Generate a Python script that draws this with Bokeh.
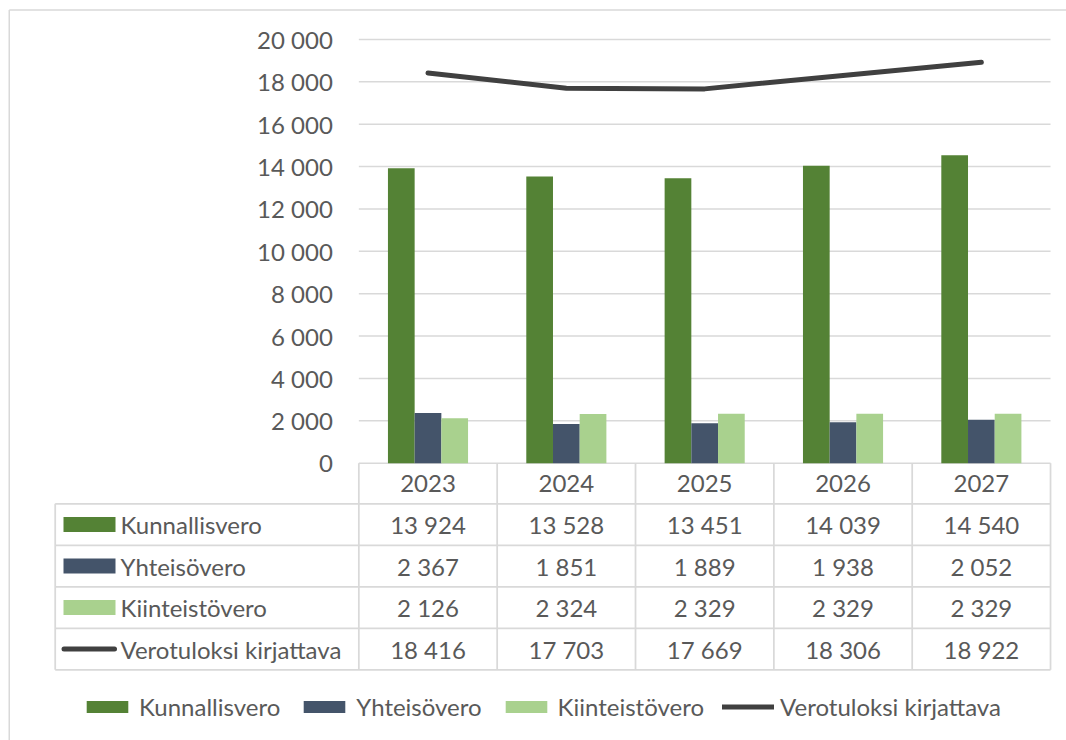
from bokeh.plotting import figure
from bokeh.models import Range1d, Legend, LegendItem
from bokeh.core.properties import value
from bokeh.embed import file_html
from bokeh.resources import INLINE

# ---------------- data ----------------
years = ["2023", "2024", "2025", "2026", "2027"]
kunnallisvero = [13924, 13528, 13451, 14039, 14540]
yhteisovero = [2367, 1851, 1889, 1938, 2052]
kiinteistovero = [2126, 2324, 2329, 2329, 2329]
verotuloksi = [18416, 17703, 17669, 18306, 18922]
series_names = ["Kunnallisvero", "Yhteisövero", "Kiinteistövero", "Verotuloksi kirjattava"]
y_ticks = [0, 2000, 4000, 6000, 8000, 10000, 12000, 14000, 16000, 18000, 20000]

# ---------------- style ----------------
GREEN = "#548235"
NAVY = "#44546A"
LIGHT = "#A9D18E"
LINEC = "#404040"
TXT = "#595959"
GRID = "#D9D9D9"
FONT = "Lato"
FS = "24px"

W, H = 1066, 740
CAT_W = 138.34           # px per category
X0_PX = 427.5            # canvas x of first category centre
Y0_PX = 462.7            # canvas y of value 0
PX_PER_K = 21.185        # px per 1000 units


def dx(px):
    return (px - X0_PX) / CAT_W


def dy(py):
    return (Y0_PX - py) / PX_PER_K * 1000.0


def fmt(v):
    return f"{v:,}".replace(",", " ")


n = len(years)
xs = list(range(n))

p = figure(width=W, height=H, x_range=Range1d(dx(0), dx(W)), y_range=Range1d(dy(H), dy(0)),
           x_axis_type=None, y_axis_type=None, toolbar_location=None, output_backend="svg",
           min_border=0, min_border_left=0, min_border_right=0, min_border_top=0, min_border_bottom=0)
p.outline_line_color = None
p.background_fill_color = "white"
p.border_fill_color = "white"
p.grid.visible = False

# outer chart border (left and top)
p.segment(x0=[dx(8.75), dx(8.75)], y0=[dy(9.6), dy(9.6)], x1=[dx(8.75), dx(W)], y1=[dy(H), dy(9.6)],
          line_color=GRID, line_width=1.5)

# gridlines
p.segment(x0=[-0.5] * len(y_ticks), x1=[n - 0.5] * len(y_ticks), y0=y_ticks, y1=y_ticks,
          line_color=GRID, line_width=1.5)

# y tick labels
p.text(x=[dx(332.3)] * len(y_ticks), y=y_ticks, text=[fmt(t) for t in y_ticks],
       text_font=value(FONT), text_font_size=FS, text_color=TXT,
       text_align="right", text_baseline="middle")

# bars
bw = 0.193
r1 = p.vbar(x=[x - bw for x in xs], top=kunnallisvero, bottom=0, width=bw, fill_color=GREEN, line_color=None)
r2 = p.vbar(x=xs, top=yhteisovero, bottom=0, width=bw, fill_color=NAVY, line_color=None)
r3 = p.vbar(x=[x + bw for x in xs], top=kiinteistovero, bottom=0, width=bw, fill_color=LIGHT, line_color=None)
r4 = p.line(x=xs, y=verotuloksi, line_color=LINEC, line_width=5, line_cap="round", line_join="round")

# ---------------- data table ----------------
row_b = [503.3, 544.8, 586.3, 627.8, 669.3]     # canvas y of row borders
col_left = dx(54.7)
tb = dy(row_b[-1])
# horizontal borders
p.segment(x0=[col_left] * len(row_b), x1=[n - 0.5] * len(row_b), y0=[dy(b) for b in row_b],
          y1=[dy(b) for b in row_b], line_color=GRID, line_width=1.75)
# vertical borders
p.segment(x0=[col_left], x1=[col_left], y0=[dy(row_b[0])], y1=[tb], line_color=GRID, line_width=1.75)
p.segment(x0=[i - 0.5 for i in range(n + 1)], x1=[i - 0.5 for i in range(n + 1)],
          y0=[0] * (n + 1), y1=[tb] * (n + 1), line_color=GRID, line_width=1.75)

# header row (years)
p.text(x=xs, y=[dy((Y0_PX + row_b[0]) / 2)] * n, text=years, text_font=value(FONT),
       text_font_size=FS, text_color=TXT, text_align="center", text_baseline="middle")

row_vals = [kunnallisvero, yhteisovero, kiinteistovero, verotuloksi]
row_cy = [dy((row_b[i] + row_b[i + 1]) / 2) for i in range(4)]
for i, vals in enumerate(row_vals):
    p.text(x=xs, y=[row_cy[i]] * n, text=[fmt(v) for v in vals], text_font=value(FONT),
           text_font_size=FS, text_color=TXT, text_align="center", text_baseline="middle")

# row labels with keys
p.text(x=[dx(120)] * 4, y=row_cy, text=series_names, text_font=value(FONT), text_font_size=FS,
       text_color=TXT, text_align="left", text_baseline="middle")
p.rect(x=[dx(89)] * 3, y=row_cy[:3], width=52, height=15, width_units="screen", height_units="screen",
       fill_color=[GREEN, NAVY, LIGHT], line_color=None)
p.segment(x0=[dx(63.5)], x1=[dx(114)], y0=[row_cy[3]], y1=[row_cy[3]], line_color=LINEC,
          line_width=5, line_cap="round")

# ---------------- legend ----------------
legend = Legend(items=[LegendItem(label=series_names[0], renderers=[r1]),
                       LegendItem(label=series_names[1], renderers=[r2]),
                       LegendItem(label=series_names[2], renderers=[r3]),
                       LegendItem(label=series_names[3], renderers=[r4])],
                orientation="horizontal", location=(81, 19.5),
                glyph_width=52, glyph_height=15, label_standoff=6, spacing=18,
                padding=0, margin=0, border_line_color=None, background_fill_alpha=0,
                label_text_font=FONT, label_text_font_size=FS, label_text_color=TXT)
p.add_layout(legend)

open("out.html", "w").write(file_html(p, INLINE))
